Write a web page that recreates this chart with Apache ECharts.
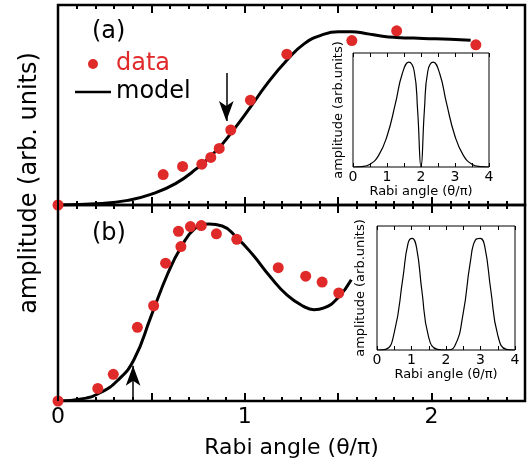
<!DOCTYPE html>
<html>
<head>
<meta charset="utf-8">
<script src="https://cdn.jsdelivr.net/npm/echarts@6/dist/echarts.min.js"></script>
<style>
  html, body { margin: 0; padding: 0; background: #fff; }
  #chart { width: 532px; height: 470px; background: #fff; }
</style>
</head>
<body>
<div id="chart"></div>
<script>
// panel (a): measured points and model curve
var aDataX = [0, 0.563, 0.667, 0.770, 0.818, 0.863, 0.925, 1.030, 1.225, 1.573, 1.813, 2.237]
var aDataY = [0, 0.152, 0.193, 0.204, 0.238, 0.283, 0.375, 0.524, 0.754, 0.822, 0.871, 0.801]
var aModelX = [0, 0.229, 0.374, 0.501, 0.629, 0.738, 0.847, 0.937, 1.030, 1.119, 1.225, 1.319, 1.410, 1.501, 1.573, 1.646, 1.737, 1.810, 1.955, 2.100, 2.209]
var aModelY = [0, 0.007, 0.023, 0.054, 0.107, 0.179, 0.271, 0.372, 0.489, 0.606, 0.724, 0.807, 0.849, 0.866, 0.866, 0.858, 0.844, 0.838, 0.833, 0.829, 0.824]
var aArrow = [[0.901, 0.66], [0.901, 0.42]]

// panel (b)
var bDataX = [0, 0.213, 0.296, 0.425, 0.512, 0.576, 0.645, 0.658, 0.709, 0.767, 0.848, 0.957, 1.179, 1.326, 1.414, 1.503]
var bDataY = [0, 0.064, 0.136, 0.376, 0.486, 0.703, 0.866, 0.788, 0.890, 0.895, 0.853, 0.825, 0.680, 0.637, 0.607, 0.551]
var bModelX = [0, 0.134, 0.225, 0.316, 0.407, 0.498, 0.589, 0.661, 0.734, 0.807, 0.879, 0.952, 1.043, 1.134, 1.225, 1.315, 1.370, 1.424, 1.497, 1.570]
var bModelY = [0, 0.012, 0.042, 0.102, 0.212, 0.432, 0.653, 0.788, 0.881, 0.903, 0.893, 0.839, 0.746, 0.636, 0.542, 0.483, 0.466, 0.475, 0.525, 0.619]
var bArrow = [[0.402, 0], [0.402, 0.18]]

// insets
var insetAX = [0, 0.25, 0.5, 0.75, 1.0, 1.25, 1.45, 1.64, 1.8, 1.9, 2.0, 2.1, 2.2, 2.36, 2.55, 2.75, 3.0, 3.25, 3.5, 3.75, 4.0]
var insetAY = [0, 0.004, 0.025, 0.1, 0.27, 0.56, 0.82, 0.92, 0.84, 0.5, 0, 0.5, 0.84, 0.92, 0.82, 0.56, 0.27, 0.1, 0.025, 0.004, 0]
var insetBX = [0, 0.25, 0.5, 0.75, 0.9, 1.02, 1.15, 1.3, 1.5, 1.75, 2.0, 2.25, 2.5, 2.7, 2.86, 2.99, 3.12, 3.3, 3.5, 3.75, 4.0]
var insetBY = [0, 0.005, 0.14, 0.58, 0.86, 0.9, 0.82, 0.48, 0.1, 0.005, 0, 0.03, 0.3, 0.7, 0.89, 0.9, 0.84, 0.48, 0.12, 0.005, 0]

// tick positions
var xTicks = [0, 1, 2]
var mainTicks = [0, 0.1, 0.2, 0.3, 0.4, 0.5, 0.6, 0.7, 0.8, 0.9, 1, 1.1, 1.2, 1.3, 1.4, 1.5, 1.6, 1.7, 1.8, 1.9, 2, 2.1, 2.2, 2.3, 2.4, 2.5]
var mainMajorTicks = [0, 0.5, 1, 1.5, 2, 2.5]
var insetTicks = [0, 0.5, 1, 1.5, 2, 2.5, 3, 3.5, 4]

var RED = '#e02a2a'
var FONT = 'DejaVu Sans'

function zip(xs, ys) {
    return xs.map(function (x, i) { return [x, ys[i]] })
}

// inward tick segments on the bottom (y=0) and top (y=1) edges, lengths in axis units
function tickSegments(values, majors, majorLen, minorLen) {
    var out = []
    values.forEach(function (v) {
        var h = majors.indexOf(v) >= 0 ? majorLen : minorLen
        out.push({ coords: [[v, 0], [v, h]] })
        out.push({ coords: [[v, 1], [v, 1 - h]] })
    })
    return out
}

function tickSeries(axisIndex, data, width) {
    return {
        type: 'lines', coordinateSystem: 'cartesian2d',
        xAxisIndex: axisIndex, yAxisIndex: axisIndex,
        silent: true, z: 8,
        lineStyle: { color: '#000', width: width, opacity: 1 },
        data: data
    }
}

function mainX(gridIndex, labels) {
    return {
        type: 'value', gridIndex: gridIndex, min: 0, max: 2.5, interval: 0.5,
        axisLine: { show: false }, axisTick: { show: false }, splitLine: { show: false },
        axisLabel: {
            show: labels, margin: 5, fontSize: 22, color: '#000', fontFamily: FONT,
            formatter: function (v) { return xTicks.indexOf(v) >= 0 ? String(v) : '' }
        },
        name: labels ? 'Rabi angle (θ/π)' : '',
        nameLocation: 'middle', nameGap: 36,
        nameTextStyle: { fontSize: 22, color: '#000', fontFamily: FONT }
    }
}

function insetX(gridIndex) {
    return {
        type: 'value', gridIndex: gridIndex, min: 0, max: 4, interval: 1,
        axisLine: { show: false }, axisTick: { show: false }, splitLine: { show: false },
        axisLabel: { margin: 3, fontSize: 14, color: '#000', fontFamily: FONT },
        name: 'Rabi angle (θ/π)', nameLocation: 'middle', nameGap: 18,
        nameTextStyle: { fontSize: 13, color: '#000', fontFamily: FONT }
    }
}

function plainY(gridIndex, name, gap) {
    return {
        type: 'value', gridIndex: gridIndex, min: 0, max: 1,
        axisLine: { show: false }, axisTick: { show: false },
        axisLabel: { show: false }, splitLine: { show: false },
        name: name, nameLocation: 'middle', nameGap: gap,
        nameTextStyle: { fontSize: 13, color: '#000', fontFamily: FONT }
    }
}

function arrowLine(pts) {
    return {
        silent: true,
        symbol: ['none', 'arrow'],
        symbolSize: [11, 20],
        label: { show: false },
        lineStyle: { color: '#000', width: 1.5, type: 'solid' },
        data: [[{ coord: pts[0] }, { coord: pts[1] }]]
    }
}

var myChart = echarts.init(document.getElementById('chart'))

myChart.setOption({
    animation: false,
    grid: [
        { left: 58, top: 5, width: 467, height: 200, show: true, borderColor: '#000', borderWidth: 2.5 },   // (a)
        { left: 58, top: 205, width: 467, height: 196, show: true, borderColor: '#000', borderWidth: 2.5 }, // (b)
        { left: 353, top: 53, width: 136, height: 114, show: true, borderColor: '#000', borderWidth: 1 },    // inset a
        { left: 377, top: 226, width: 138, height: 124, show: true, borderColor: '#000', borderWidth: 1 }    // inset b
    ],
    xAxis: [mainX(0, false), mainX(1, true), insetX(2), insetX(3)],
    yAxis: [plainY(0, '', 10), plainY(1, '', 10), plainY(2, 'amplitude (arb.units)', 8), plainY(3, 'amplitude (arb.units)', 10)],
    legend: {
        orient: 'vertical', left: 70, top: 47, itemGap: 4,
        itemWidth: 36, itemHeight: 10,
        textStyle: { fontSize: 24, fontFamily: FONT },
        data: [
            { name: 'data', icon: 'circle', textStyle: { color: RED } },
            { name: 'model', icon: 'path://M0,0 L40,0 L40,3 L0,3 Z', itemHeight: 3, textStyle: { color: '#000' } }
        ]
    },
    graphic: [
        { type: 'text', left: 92, top: 20, style: { text: '(a)', fontSize: 24, fill: '#000', fontFamily: FONT } },
        { type: 'text', left: 92, top: 222, style: { text: '(b)', fontSize: 24, fill: '#000', fontFamily: FONT } },
        {
            type: 'text', x: 30, y: 183, rotation: Math.PI / 2,
            style: { text: 'amplitude (arb. units)', fontSize: 24, fill: '#000', fontFamily: FONT, align: 'center', verticalAlign: 'middle' }
        }
    ],
    series: [
        {
            name: 'model', type: 'line', xAxisIndex: 0, yAxisIndex: 0,
            data: zip(aModelX, aModelY), smooth: true, symbol: 'none',
            lineStyle: { color: '#000', width: 3 }, itemStyle: { color: '#000' },
            markLine: arrowLine(aArrow)
        },
        {
            name: 'data', type: 'scatter', xAxisIndex: 0, yAxisIndex: 0,
            data: zip(aDataX, aDataY), symbolSize: 11, clip: false,
            itemStyle: { color: RED, opacity: 1 }, z: 5
        },
        {
            name: 'model', type: 'line', xAxisIndex: 1, yAxisIndex: 1,
            data: zip(bModelX, bModelY), smooth: true, symbol: 'none',
            lineStyle: { color: '#000', width: 3 }, itemStyle: { color: '#000' },
            markLine: arrowLine(bArrow)
        },
        {
            name: 'data', type: 'scatter', xAxisIndex: 1, yAxisIndex: 1,
            data: zip(bDataX, bDataY), symbolSize: 11, clip: false,
            itemStyle: { color: RED, opacity: 1 }, z: 5
        },
        {
            name: 'inset a', type: 'line', xAxisIndex: 2, yAxisIndex: 2,
            data: zip(insetAX, insetAY), smooth: 0.5, symbol: 'none',
            lineStyle: { color: '#000', width: 1.2 }, z: 6
        },
        {
            name: 'inset b', type: 'line', xAxisIndex: 3, yAxisIndex: 3,
            data: zip(insetBX, insetBY), smooth: 0.5, symbol: 'none',
            lineStyle: { color: '#000', width: 1.2 }, z: 6
        },
        tickSeries(0, tickSegments(mainTicks, mainMajorTicks, 8 / 200, 4 / 200), 2),
        tickSeries(1, tickSegments(mainTicks, mainMajorTicks, 8 / 196, 4 / 196), 2),
        tickSeries(2, tickSegments(insetTicks, [], 4 / 114, 4 / 114), 1),
        tickSeries(3, tickSegments(insetTicks, [], 4 / 124, 4 / 124), 1)
    ]
})
window.addEventListener('resize', myChart.resize)
</script>
</body>
</html>
